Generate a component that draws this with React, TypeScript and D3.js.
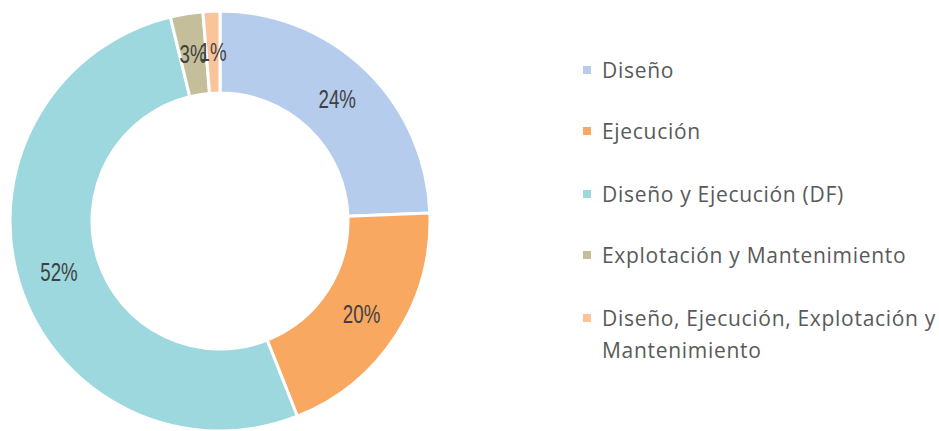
import React from "react";
import * as d3 from "d3";

const categories = [
  "Diseño",
  "Ejecución",
  "Diseño y Ejecución (DF)",
  "Explotación y Mantenimiento",
  "Diseño, Ejecución, Explotación y Mantenimiento",
];
const values = [24.4, 19.6, 52.2, 2.5, 1.3];
const labels = ["24%", "20%", "52%", "3%", "1%"];
const colors = ["#B5CCEC", "#F9A862", "#9DD8DF", "#C4BF9A", "#FAC39A"];
const legendLines = [
  ["Diseño"],
  ["Ejecución"],
  ["Diseño y Ejecución (DF)"],
  ["Explotación y Mantenimiento"],
  ["Diseño, Ejecución, Explotación y", "Mantenimiento"],
];

const W = 939;
const H = 431;
const cx = 220;
const cy = 221;
const rOuter = 210;
const rInner = 128;

export default function App() {
  const pie = d3.pie<number>().sort(null).value((d) => d);
  const arcs = pie(values);
  const arc = d3.arc<d3.PieArcDatum<number>>().innerRadius(rInner).outerRadius(rOuter);
  const labelArc = d3
    .arc<d3.PieArcDatum<number>>()
    .innerRadius((rInner + rOuter) / 2)
    .outerRadius((rInner + rOuter) / 2);

  const legendY = [70, 131, 194, 255, 318];

  return (
    <svg
      width={W}
      height={H}
      style={{ position: "absolute", left: 0, top: 0, display: "block" }}
    >
      <rect width={W} height={H} fill="#ffffff" />
      <g transform={`translate(${cx},${cy})`}>
        {arcs.map((a, i) => (
          <path key={categories[i]} d={arc(a) || ""} fill={colors[i]} stroke="#ffffff" strokeWidth={3} />
        ))}
        {arcs.map((a, i) => {
          const [x, y] = labelArc.centroid(a);
          return (
            <text
              key={"l" + i}
              transform={`translate(${x},${y}) scale(0.72,1)`}
              textAnchor="middle"
              dominantBaseline="central"
              fontFamily="'Liberation Sans', Arial, sans-serif"
              fontSize={26}
              fill="#404040"
            >
              {labels[i]}
            </text>
          );
        })}
      </g>
      <g>
        {legendLines.map((lines, i) => (
          <g key={"lg" + i}>
            <rect x={583} y={legendY[i] - 4} width={8} height={8} fill={colors[i]} />
            {lines.map((t, j) => (
              <text
                key={j}
                x={602}
                y={legendY[i] + j * 32}
                dominantBaseline="central"
                fontFamily="'Open Sans', sans-serif"
                fontSize={21}
                letterSpacing={0.7}
                fill="#595959"
              >
                {t}
              </text>
            ))}
          </g>
        ))}
      </g>
    </svg>
  );
}
